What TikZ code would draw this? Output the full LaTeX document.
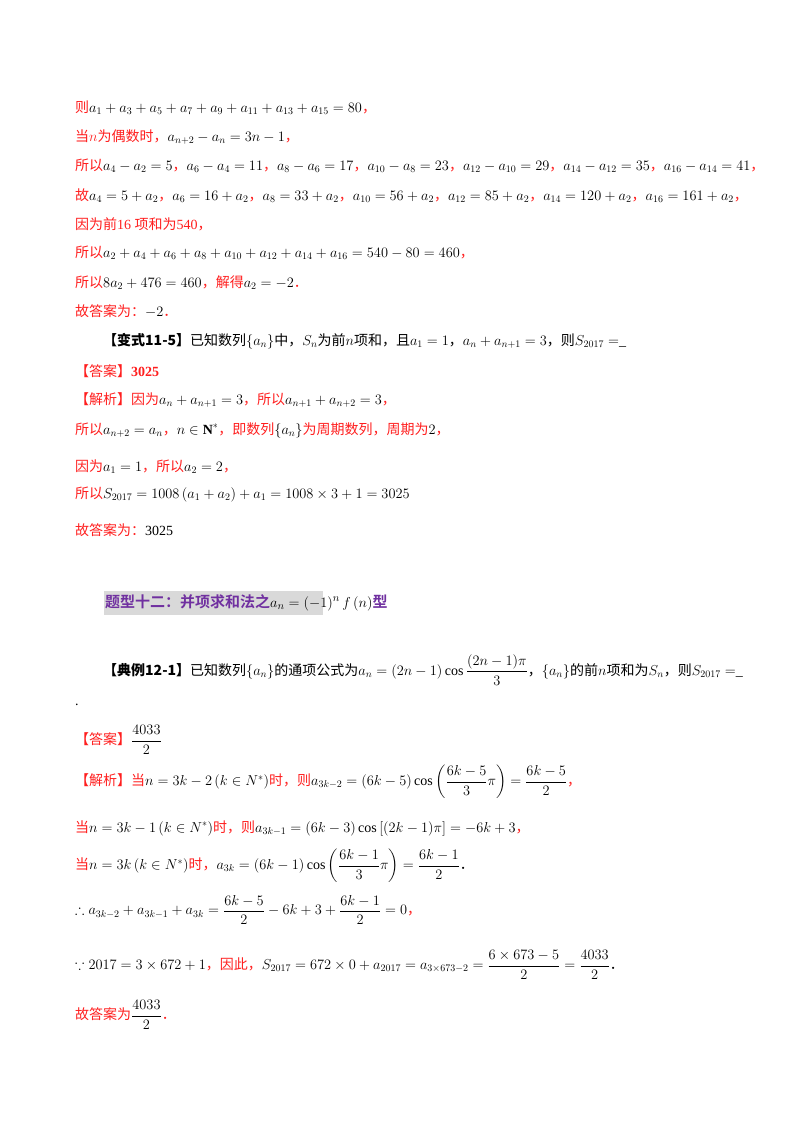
\documentclass[tikz,border=0pt]{standalone}
\usepackage{amsmath,amssymb}
\usepackage{fontspec}
\setmainfont{Liberation Serif}
\newfontfamily\cjk{Noto Sans CJK SC}
\newfontfamily\cjkb{Noto Sans CJK SC Bold}
\definecolor{myred}{RGB}{255,30,30}
\definecolor{mypurple}{RGB}{112,48,160}
\definecolor{mygray}{RGB}{217,217,217}
\newcommand{\R}[1]{{\color{myred}\cjk #1}}
\newcommand{\K}[1]{{\cjk #1}}
\begin{document}
\begin{tikzpicture}[x=1pt,y=1pt,
  ln/.style={anchor=west,inner sep=0pt,font=\fontsize{14}{16}\selectfont}]
\useasboundingbox (0,0) rectangle (800,-1132);
\node[ln] (l1) at (75,-108) {\R{则}$a_1+a_3+a_5+a_7+a_9+a_{11}+a_{13}+a_{15}=80$\R{，}};
\node[ln] (l2) at (75,-137) {\R{当}{\color{myred}$n$}\R{为偶数时，}$a_{n+2}-a_n=3n-1$\R{，}};
\node[ln] (l3) at (75,-166) {\R{所以}$a_4-a_2=5$\R{，}$a_6-a_4=11$\R{，}$a_8-a_6=17$\R{，}$a_{10}-a_8=23$\R{，}$a_{12}-a_{10}=29$\R{，}$a_{14}-a_{12}=35$\R{，}$a_{16}-a_{14}=41$\R{，}};
\node[ln] (l4) at (75,-196) {\R{故}$a_4=5+a_2$\R{，}$a_6=16+a_2$\R{，}$a_8=33+a_2$\R{，}$a_{10}=56+a_2$\R{，}$a_{12}=85+a_2$\R{，}$a_{14}=120+a_2$\R{，}$a_{16}=161+a_2$\R{，}};
\node[ln] (l5) at (75,-224) {\R{因为前}{\color{myred} 16 }\R{项和为}{\color{myred} 540}\R{，}};
\node[ln] (l6) at (75,-253) {\R{所以}$a_2+a_4+a_6+a_8+a_{10}+a_{12}+a_{14}+a_{16}=540-80=460$\R{，}};
\node[ln] (l7) at (75,-283) {\R{所以}$8a_2+476=460$\R{，解得}$a_2=-2$\R{．}};
\node[ln] (l8) at (75,-311) {\R{故答案为：}$-2$\R{．}};
\node[ln] (l9) at (103,-341) {\K{\bfseries 【变式11-5】}\K{已知数列}$\{a_n\}$\K{中，}$S_n$\K{为前}$n$\K{项和，且}$a_1=1$\K{，}$a_n+a_{n+1}=3$\K{，则}$S_{2017}=$\_};
\node[ln] (l10) at (75,-371) {\R{【答案】}{\color{myred}\bfseries 3025}};
\node[ln] (l11) at (75,-400) {\R{【解析】因为}$a_n+a_{n+1}=3$\R{，所以}$a_{n+1}+a_{n+2}=3$\R{，}};
\node[ln] (l12) at (75,-430) {\R{所以}$a_{n+2}=a_n$\R{，}$n\in\mathbf{N}^*$\R{，即数列}$\{a_n\}$\R{为周期数列，周期为}$2$\R{，}};
\node[ln] (l13) at (75,-467) {\R{因为}$a_1=1$\R{，所以}$a_2=2$\R{，}};
\node[ln] (l14) at (75,-494) {\R{所以}$S_{2017}=1008\left(a_1+a_2\right)+a_1=1008\times3+1=3025$};
\node[ln] (l15) at (75,-530) {\R{故答案为：}3025};
\fill[mygray] (104,-591) rectangle (323,-615);
\node[ln,font=\fontsize{15}{17}\selectfont] (t) at (105,-603) {{\color{mypurple}\cjkb 题型十二：并项求和法之}$a_n=\left(-1\right)^n f\left(n\right)${\color{mypurple}\cjkb 型}};
\node[ln] (e1) at (103,-670) {\K{\bfseries 【典例12-1】}\K{已知数列}$\{a_n\}$\K{的通项公式为}$a_n=(2n-1)\cos\dfrac{(2n-1)\pi}{3}$\K{，}$\{a_n\}$\K{的前}$n$\K{项和为}$S_n$\K{，则}$S_{2017}=$\_};
\node[ln] (dot) at (75,-705) {.};
\node[ln] (e2) at (75,-740) {\R{【答案】}$\dfrac{4033}{2}$};
\node[ln] (e3) at (75,-782) {\R{【解析】当}$n=3k-2\left(k\in N^*\right)$\R{时，则}$a_{3k-2}=(6k-5)\cos\left(\dfrac{6k-5}{3}\pi\right)=\dfrac{6k-5}{2}$\R{，}};
\node[ln] (e4) at (75,-828) {\R{当}$n=3k-1\left(k\in N^*\right)$\R{时，则}$a_{3k-1}=(6k-3)\cos\left[(2k-1)\pi\right]=-6k+3$\R{，}};
\node[ln] (e5) at (75,-866) {\R{当}$n=3k\left(k\in N^*\right)$\R{时，}$a_{3k}=(6k-1)\cos\left(\dfrac{6k-1}{3}\pi\right)=\dfrac{6k-1}{2}$\K{．}};
\node[ln] (e6) at (75,-910) {$\therefore a_{3k-2}+a_{3k-1}+a_{3k}=\dfrac{6k-5}{2}-6k+3+\dfrac{6k-1}{2}=0$\R{，}};
\node[ln] (e7) at (75,-965) {$\because 2017=3\times672+1$\R{，因此，}$S_{2017}=672\times0+a_{2017}=a_{3\times673-2}=\dfrac{6\times673-5}{2}=\dfrac{4033}{2}$\K{．}};
\node[ln] (e8) at (75,-1015) {\R{故答案为}$\dfrac{4033}{2}$\R{．}};
\end{tikzpicture}
\end{document}
